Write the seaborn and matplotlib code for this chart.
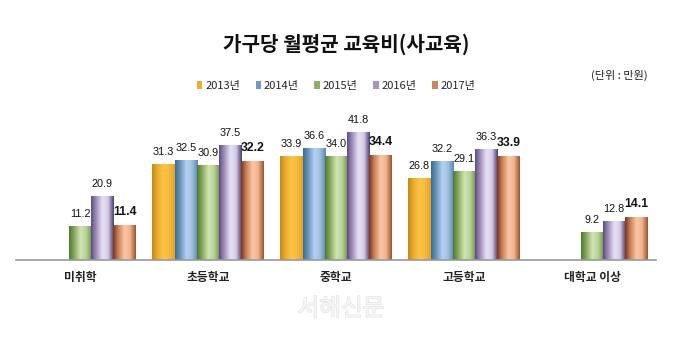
import numpy as np
import pandas as pd
import matplotlib
matplotlib.use("Agg")
import matplotlib.pyplot as plt
import matplotlib.patheffects as pe
from matplotlib.colors import LinearSegmentedColormap
from matplotlib.patches import Patch
import seaborn as sns

# Monthly private education spending per household (unit: 10,000 KRW)
categories = ["미취학", "초등학교", "중학교", "고등학교", "대학교 이상"]
years = ["2013년", "2014년", "2015년", "2016년", "2017년"]
v2013 = [np.nan, 31.3, 33.9, 26.8, np.nan]
v2014 = [np.nan, 32.5, 36.6, 32.2, np.nan]
v2015 = [11.2, 30.9, 34.0, 29.1, 9.2]
v2016 = [20.9, 37.5, 41.8, 36.3, 12.8]
v2017 = [11.4, 32.2, 34.4, 33.9, 14.1]

series = dict(zip(years, [v2013, v2014, v2015, v2016, v2017]))
df = pd.DataFrame(
    [(c, y, v) for y, vals in series.items() for c, v in zip(categories, vals)],
    columns=["category", "year", "value"],
).dropna()

# cylinder-like shading across each bar (left edge -> right edge)
shades = {
    "2013년": ["#C28818", "#EDAE2E", "#FCC648", "#F6BA3A", "#DDA22C"],
    "2014년": ["#3C6A8E", "#6E9AC4", "#B6D2EF", "#9EBFE2", "#5A86B2"],
    "2015년": ["#4C782E", "#8CAF62", "#D0E4B6", "#B8D396", "#6C9246"],
    "2016년": ["#5E4C80", "#A696C2", "#E8E2F2", "#D4CAE4", "#4A3A6C"],
    "2017년": ["#7A381C", "#CE865E", "#FAC8A6", "#F0B48E", "#985230"],
}
mid = {y: c[2 if y != "2013년" else 3] for y, c in shades.items()}
legend_col = {y: c[1] for y, c in shades.items()}

sns.set_theme(style="white")
plt.rcParams["font.family"] = ["Noto Sans CJK KR", "DejaVu Sans"]

fig = plt.figure(figsize=(6.8, 3.43), dpi=100)
fig.patch.set_facecolor("white")
ax = fig.add_axes([16 / 680, 83 / 343, 640 / 680, 138 / 343])

sns.barplot(
    data=df, x="category", y="value", hue="year",
    order=categories, hue_order=years,
    palette=[mid[y] for y in years], saturation=1,
    width=0.87, errorbar=None, legend=False, ax=ax,
)

num_font = ["Liberation Sans", "DejaVu Sans"]
grad = np.linspace(0, 1, 128).reshape(1, -1)
for container, year in zip(ax.containers, years):
    cmap = LinearSegmentedColormap.from_list(year, shades[year])
    for bar, val in zip(container.patches, container.datavalues):
        x0, w, h = bar.get_x(), bar.get_width(), bar.get_height()
        bar.set_edgecolor("none")
        im = ax.imshow(grad, cmap=cmap, extent=[x0, x0 + w, 0, h],
                       aspect="auto", origin="lower", interpolation="bicubic",
                       zorder=bar.get_zorder() + 0.1)
        im.set_clip_path(bar)
        bold = year == "2017년"
        ax.annotate(f"{val:.1f}", (x0 + w / 2, val), xytext=(0, 5),
                    textcoords="offset points", ha="center", va="bottom",
                    fontsize=8.8 if bold else 7.8,
                    fontweight="bold" if bold else "normal",
                    family=num_font, color="#111111")

ax.set_xlim(-0.5, 4.5)
ax.set_ylim(0, 45)
ax.set_xlabel("")
ax.set_ylabel("")
ax.set_yticks([])
for side in ("top", "right", "left"):
    ax.spines[side].set_visible(False)
ax.spines["bottom"].set_color("#9A9A9A")
ax.spines["bottom"].set_linewidth(1.2)
ax.tick_params(axis="x", length=0, pad=8)
for lbl in ax.get_xticklabels():
    lbl.set_fontsize(8.5)
    lbl.set_fontweight("bold")
    lbl.set_color("#222222")
ax.set_facecolor("white")

fig.text(346 / 680, 1 - 44 / 343, "가구당 월평균 교육비(사교육)",
         ha="center", va="center", fontsize=14.5, fontweight="bold",
         color="#111111")
fig.text(619 / 680, 1 - 75 / 343, "(단위 : 만원)", ha="center", va="center",
         fontsize=8, color="#222222")

handles = [Patch(facecolor=legend_col[y], edgecolor="none") for y in years]
fig.legend(handles, years, loc="center", bbox_to_anchor=(336 / 680, 1 - 86 / 343),
           ncol=5, frameon=False, fontsize=8, handlelength=0.5, handleheight=0.8,
           handletextpad=0.25, columnspacing=1.4)

fig.text(341 / 680, 1 - 309 / 343, "서해신문", ha="center", va="center",
         fontsize=17, color="#F6F6F6",
         path_effects=[pe.withStroke(linewidth=1.0, foreground="#E4E4E4")])

fig.savefig("out.png", dpi=100, facecolor="white")
